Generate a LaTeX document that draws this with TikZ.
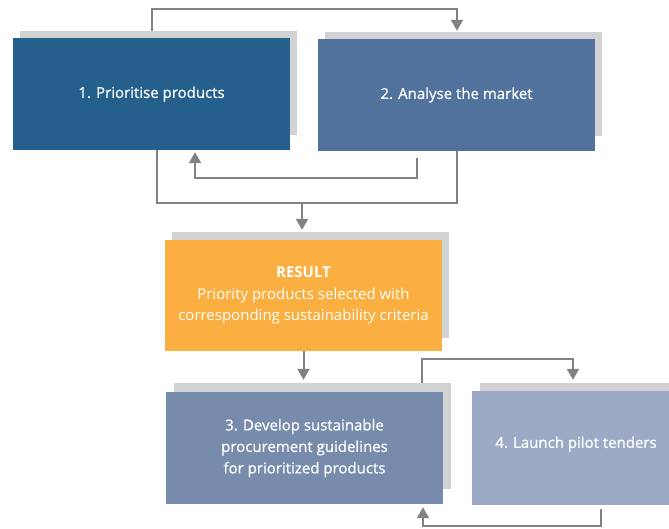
\documentclass[tikz,border=0pt]{standalone}
\usepackage{fontspec}
\setmainfont{Open Sans}
\newfontfamily\medfont{Open Sans}[FakeBold=0.7]
\usetikzlibrary{arrows.meta}
\definecolor{cOne}{HTML}{25608D}
\definecolor{cTwo}{HTML}{52729E}
\definecolor{cRes}{HTML}{FAAF40}
\definecolor{cThree}{HTML}{778BAD}
\definecolor{cFour}{HTML}{9DAAC6}
\definecolor{cShade}{HTML}{D1D2D4}
\definecolor{cLine}{HTML}{808285}
\begin{document}
\begin{tikzpicture}[x=1pt,y=-1pt,
  shadebox/.style={fill=cShade, draw=none, inner sep=0pt, minimum width=277pt, minimum height=104pt},
  stepbox/.style={draw=none, inner sep=0pt, minimum width=277pt, minimum height=112pt, text=white, align=center, font=\medfont\fontsize{15}{21.5}\selectfont},
  lbl/.style={text=white, align=center, inner sep=0pt, font=\medfont\fontsize{15}{21.5}\selectfont},
  conn/.style={draw=cLine, line width=2pt},
  arr/.style={conn, -{Triangle[width=12pt,length=11pt]}}]
\useasboundingbox (0,0) rectangle (669,528);
\clip (0,0) rectangle (669,528);
% shadows
\node[shadebox] (s1) at (158.5,83) {};
\node[shadebox] (s2) at (463.5,84) {};
\node[shadebox, minimum height=106pt] (sR) at (310.5,285) {};
\node[shadebox, minimum height=106pt] (s3) at (312.5,436) {};
\node[shadebox, minimum height=106pt] (s4) at (618.5,436) {};
% boxes
\node[stepbox, fill=cOne] (b1) at (151.5,94) {1. Prioritise products};
\node[stepbox, fill=cTwo] (b2) at (456.5,95) {2. Analyse the market};
\node[stepbox, fill=cRes, minimum height=111pt, font=\fontsize{15}{21.5}\selectfont] (R) at (303.5,295.5) {\textbf{RESULT}\\Priority products selected with\\corresponding sustainability criteria};
\node[stepbox, fill=cThree] (b3) at (304.5,448) {3. Develop sustainable\\procurement guidelines\\for prioritized products};
\node[stepbox, fill=cFour, minimum height=114pt] (b4) at (610.5,448) {};
\node[lbl] (t4) at (576,444) {4. Launch pilot tenders};
% connectors
\draw[arr, shorten >=1pt] ([xshift=-6.5pt]s1.north) -- ++(0,-22) -| ([xshift=-6.5pt]s2.north);
\coordinate (f1) at (417,158);
\draw[arr, shorten >=2pt] (f1) -- ++(0,20) -| ([xshift=43.5pt]b1.south);
\coordinate (m) at (302,203);
\draw[conn] ([xshift=5.5pt]b1.south) |- (m) -| (b2.south);
\draw[arr, shorten >=2pt] (m) -- (m |- sR.north);
\draw[arr, shorten >=3pt] (R.south) -- (R.south |- s3.north);
\draw[arr, shorten >=3pt] ([xshift=109.5pt]s3.north) -- ++(0,-24) -| ([xshift=-45.5pt]s4.north);
\coordinate (f2) at (601,509);
\draw[arr, shorten >=3pt] (f2) -- ++(0,17) -| ([xshift=118.5pt]b3.south);
\end{tikzpicture}
\end{document}
